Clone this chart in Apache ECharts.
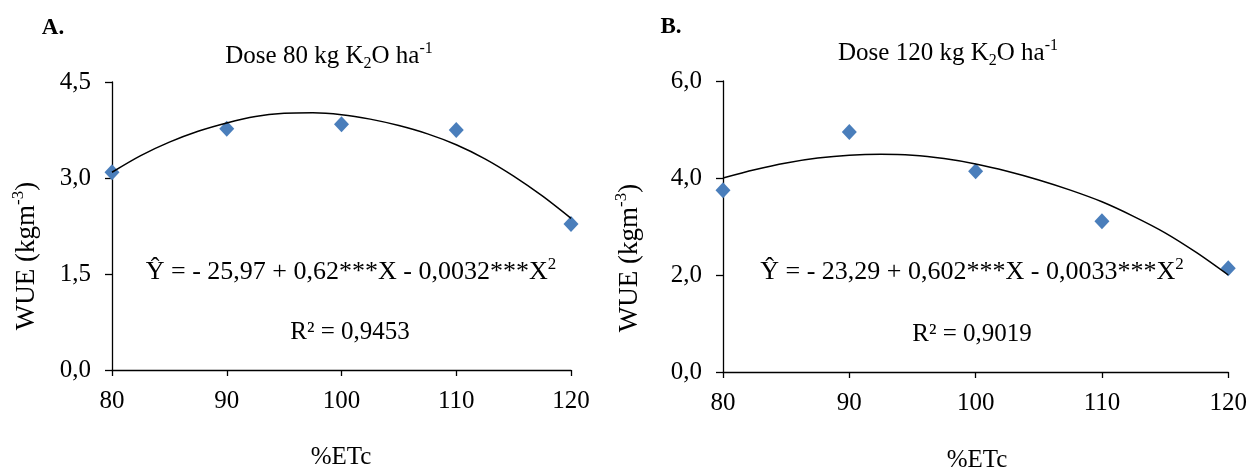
<!DOCTYPE html>
<html>
<head>
<meta charset="utf-8">
<script src="https://cdn.jsdelivr.net/npm/echarts@6/dist/echarts.min.js"></script>
<style>
  html, body { margin: 0; padding: 0; background: #fff; }
  #chart { width: 1250px; height: 471px; }
</style>
</head>
<body>
<div id="chart"></div>
<script>
// %ETc levels and observed WUE (kg m-3)
var etcLevels = [80, 90, 100, 110, 120];
var wueDose80 = [3.09, 3.77, 3.84, 3.75, 2.28];
var wueDose120 = [3.75, 4.95, 4.14, 3.11, 2.14];

// trend line
var trendX = [80, 82.5, 85, 87.5, 90, 92.5, 95, 97.5, 100, 102.5, 105, 107.5, 110, 112.5, 115, 117.5, 120];
var trendDose80 = [3.09, 3.35, 3.56, 3.73, 3.86, 3.96, 4.01, 4.02, 3.99, 3.92, 3.82, 3.69, 3.52, 3.30, 3.03, 2.72, 2.37];
var trendDose120 = [4.00, 4.17, 4.31, 4.41, 4.47, 4.49, 4.47, 4.40, 4.29, 4.14, 3.96, 3.75, 3.51, 3.21, 2.87, 2.46, 2.00];

// axis ticks
var xTicks = [80, 90, 100, 110, 120];
var yTicksA = [0, 1.5, 3.0, 4.5];
var yTicksB = [0, 2.0, 4.0, 6.0];

var FONT = 'Liberation Serif';
var myChart = echarts.init(document.getElementById('chart'), null, {renderer: 'canvas'});

function pairs(xs, ys) {
  var out = [];
  for (var i = 0; i < xs.length; i++) {
    out.push([xs[i], ys[i]]);
  }
  return out;
}

function commaLabel(v) {
  return v.toFixed(1).replace('.', ',');
}

function xAxisOf(gridIndex) {
  return {
    type: 'value',
    gridIndex: gridIndex,
    min: xTicks[0],
    max: xTicks[xTicks.length - 1],
    interval: xTicks[1] - xTicks[0],
    axisLine: {lineStyle: {color: '#000', width: 1.3}},
    axisTick: {show: true, length: 6, lineStyle: {color: '#000', width: 1.3}},
    axisLabel: {color: '#000', fontFamily: FONT, fontSize: 25, margin: 19},
    splitLine: {show: false}
  };
}

function yAxisOf(gridIndex, ticks) {
  return {
    type: 'value',
    gridIndex: gridIndex,
    min: ticks[0],
    max: ticks[ticks.length - 1],
    interval: ticks[1] - ticks[0],
    axisLine: {show: true, lineStyle: {color: '#000', width: 1.3}},
    axisTick: {show: true, length: 7, lineStyle: {color: '#000', width: 1.3}},
    axisLabel: {color: '#000', fontFamily: FONT, fontSize: 25, margin: 21, formatter: commaLabel},
    splitLine: {show: false}
  };
}

function richOf(size) {
  var small = Math.round(size * 0.64);
  return {
    n: {fontFamily: FONT, fontSize: size, color: '#000', lineHeight: size + 6, verticalAlign: 'middle'},
    sup: {fontFamily: FONT, fontSize: small, color: '#000', lineHeight: small, verticalAlign: 'top'},
    sub: {fontFamily: FONT, fontSize: small, color: '#000', lineHeight: small, verticalAlign: 'bottom'}
  };
}

function label(x, y, text, size, extra) {
  var el = {
    type: 'text',
    x: x,
    y: y,
    style: {
      text: text,
      align: 'center',
      verticalAlign: 'middle',
      fontFamily: FONT,
      fontSize: size,
      fill: '#000',
      rich: richOf(size)
    }
  };
  if (extra) {
    for (var k in extra) el[k] = extra[k];
  }
  return el;
}

var option = {
  animation: false,
  backgroundColor: '#fff',
  grid: [
    {left: 112, top: 82, width: 459, height: 288},
    {left: 723, top: 81, width: 506, height: 291}
  ],
  xAxis: [xAxisOf(0), xAxisOf(1)],
  yAxis: [yAxisOf(0, yTicksA), yAxisOf(1, yTicksB)],
  series: [
    {
      type: 'line', xAxisIndex: 0, yAxisIndex: 0,
      data: pairs(trendX, trendDose80),
      smooth: 0.3, showSymbol: false, silent: true,
      lineStyle: {color: '#000', width: 1.5}
    },
    {
      type: 'scatter', xAxisIndex: 0, yAxisIndex: 0,
      data: pairs(etcLevels, wueDose80),
      symbol: 'diamond', symbolSize: [15, 16],
      itemStyle: {color: '#4a7ebb', opacity: 1}
    },
    {
      type: 'line', xAxisIndex: 1, yAxisIndex: 1,
      data: pairs(trendX, trendDose120),
      smooth: 0.3, showSymbol: false, silent: true,
      lineStyle: {color: '#000', width: 1.5}
    },
    {
      type: 'scatter', xAxisIndex: 1, yAxisIndex: 1,
      data: pairs(etcLevels, wueDose120),
      symbol: 'diamond', symbolSize: [15, 16],
      itemStyle: {color: '#4a7ebb', opacity: 1}
    }
  ],
  graphic: [
    label(53, 28, 'A.', 23),
    label(671, 27, 'B.', 23),
    label(329, 56, '{n|Dose 80 kg K}{sub|2}{n|O ha}{sup|-1}', 25),
    label(948, 53, '{n|Dose 120 kg K}{sub|2}{n|O ha}{sup|-1}', 25),
    label(351, 272, '{n|Ŷ = - 25,97 + 0,62***X - 0,0032***X}{sup|2}', 26),
    label(350, 332, '{n|R² = 0,9453}', 25),
    label(972, 272, '{n|Ŷ = - 23,29 + 0,602***X - 0,0033***X}{sup|2}', 26),
    label(972, 334, '{n|R² = 0,9019}', 25),
    label(27, 256, '{n|WUE (kgm}{sup|-3}{n|)}', 27, {rotation: Math.PI / 2}),
    label(630, 258, '{n|WUE (kgm}{sup|-3}{n|)}', 27, {rotation: Math.PI / 2}),
    label(341, 457, '%ETc', 25),
    label(977, 460, '%ETc', 25)
  ]
};

// bold panel letters
option.graphic[0].style.fontWeight = 'bold';
option.graphic[1].style.fontWeight = 'bold';

myChart.setOption(option);
</script>
</body>
</html>
